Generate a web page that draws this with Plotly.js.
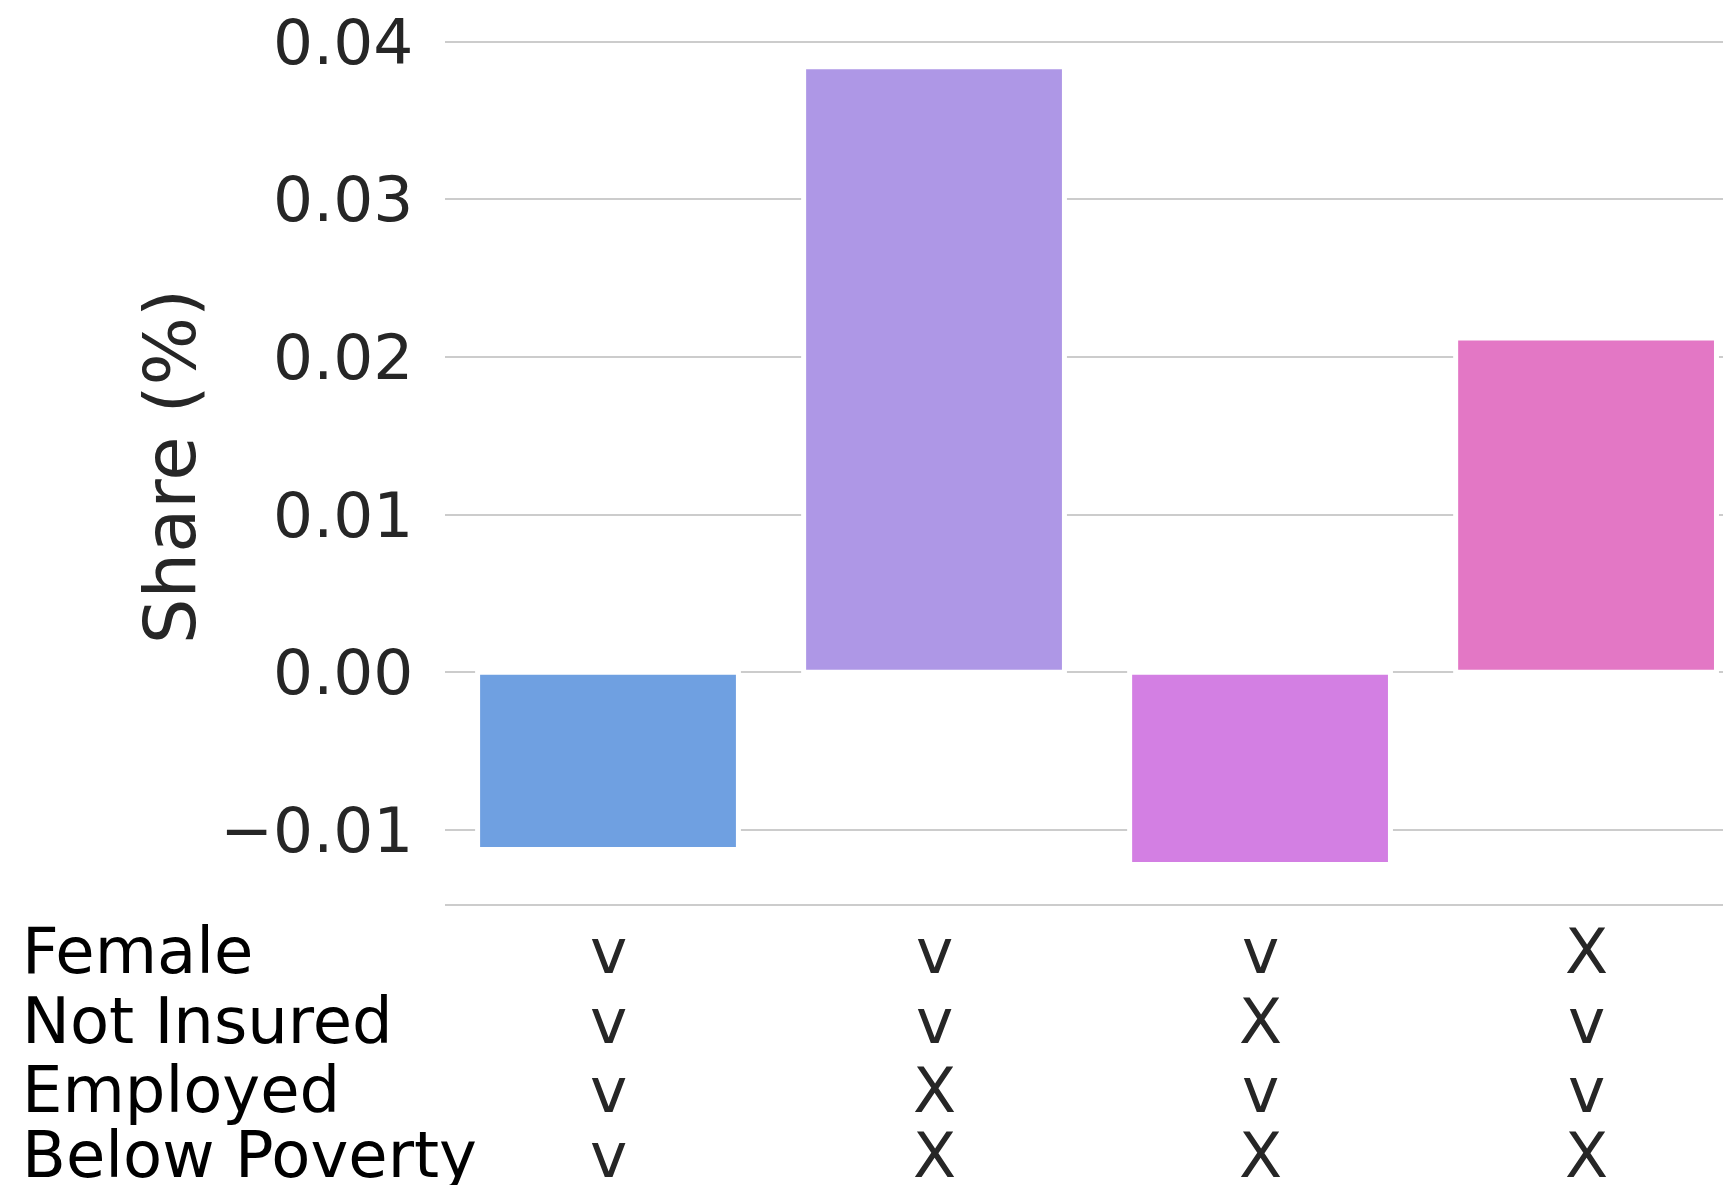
<!DOCTYPE html>
<html>
<head>
<meta charset="utf-8">
<script src="https://cdn.plot.ly/plotly-3.0.1.min.js"></script>
<style>
  html, body { margin: 0; padding: 0; background: #ffffff; }
  #chart { width: 1723px; height: 1185px; }
</style>
</head>
<body>
<div id="chart"></div>
<script>
// ---- data ----
const rowLabels = ['Female', 'Not Insured', 'Employed', 'Below Poverty'];
const femaleMarks = ['v', 'v', 'v', 'X'];
const notInsuredMarks = ['v', 'v', 'X', 'v'];
const employedMarks = ['v', 'X', 'v', 'v'];
const belowPovertyMarks = ['v', 'X', 'X', 'X'];
const shares = [-0.01125, 0.0384, -0.0122, 0.0212];
const yTickValues = [-0.01, 0.00, 0.01, 0.02, 0.03, 0.04];

// ---- style ----
const barColors = ['#6fa0e1', '#ae97e6', '#d37fe3', '#e377c5'];
const FONT = 'DejaVu Sans, Verdana, sans-serif';
const W = 1723, H = 1185;
const marginL = 445, marginR = 0, marginT = 29, marginB = 281;
const plotH = H - marginT - marginB;
const plotBottom = H - marginB;

const markRows = [femaleMarks, notInsuredMarks, employedMarks, belowPovertyMarks];
const categories = femaleMarks.map((_, i) => markRows.map(r => r[i]).join('') + '_' + i);

const rowCenters = [951, 1021, 1090, 1155];
const toPaperY = pix => (plotBottom - pix) / plotH;

const annotations = [];
rowLabels.forEach((lab, r) => {
  annotations.push({
    text: lab, xref: 'paper', yref: 'paper',
    x: (20 - marginL) / (W - marginL - marginR), xanchor: 'left',
    y: toPaperY(rowCenters[r]), yanchor: 'middle',
    showarrow: false,
    font: {family: FONT, size: 64, color: '#000000'}
  });
  markRows[r].forEach((m, i) => {
    annotations.push({
      text: m, xref: 'x', yref: 'paper',
      x: categories[i], xanchor: 'center',
      y: toPaperY(rowCenters[r]), yanchor: 'middle',
      showarrow: false,
      font: {family: FONT, size: 63, color: '#262626'}
    });
  });
});

const trace = {
  type: 'bar',
  x: categories,
  y: shares,
  width: 0.8,
  marker: {color: barColors, line: {color: '#ffffff', width: 5}},
  hoverinfo: 'x+y'
};

const layout = {
  width: W, height: H,
  margin: {l: marginL, r: marginR, t: marginT, b: marginB, pad: 0},
  paper_bgcolor: '#ffffff',
  plot_bgcolor: '#ffffff',
  showlegend: false,
  font: {family: FONT, color: '#262626'},
  xaxis: {
    type: 'category',
    range: [-0.5, 3.42],
    showticklabels: false,
    showgrid: false,
    zeroline: false,
    showline: true,
    linecolor: '#cccccc',
    linewidth: 2,
    ticks: '',
    fixedrange: true
  },
  yaxis: {
    range: [-0.0147, 0.0408],
    tickvals: yTickValues,
    tickformat: '.2f',
    tickfont: {family: FONT, size: 63, color: '#262626'},
    ticklabeloverflow: 'allow',
    ticks: 'outside',
    ticklen: 18,
    tickcolor: 'rgba(0,0,0,0)',
    showgrid: true,
    gridcolor: '#cccccc',
    gridwidth: 2,
    zeroline: false,
    showline: false,
    title: {text: 'Share (%)', font: {family: FONT, size: 72, color: '#262626'}, standoff: 1},
    fixedrange: true
  },
  annotations: annotations
};

Plotly.newPlot('chart', [trace], layout, {displayModeBar: false, staticPlot: true});
</script>
</body>
</html>
